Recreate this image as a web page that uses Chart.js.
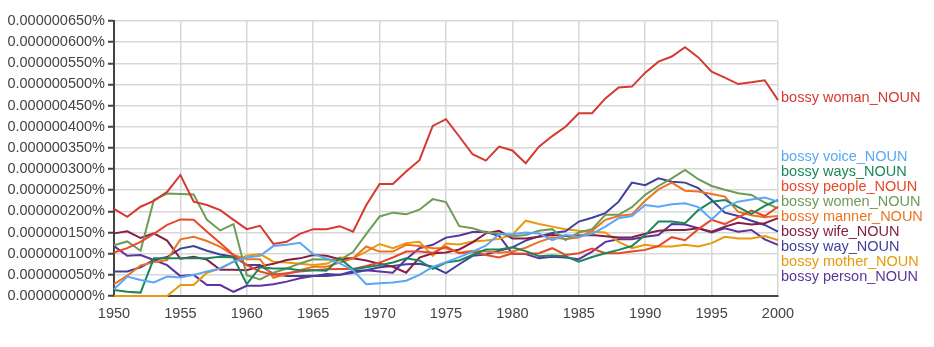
<!DOCTYPE html>
<html>
<head>
<meta charset="utf-8">
<script src="https://cdn.jsdelivr.net/npm/chart.js@4"></script>
<style>
  html, body { margin: 0; padding: 0; background: #fff; }
  #wrap { width: 934px; height: 347px; position: relative; }
</style>
</head>
<body>
<div id="wrap"><canvas id="chart"></canvas></div>
<script>
// values are in units of 0.000000001 %
const years = [];
for (let y = 1950; y <= 2000; y++) years.push(y);

const woman = [206, 187, 211, 225, 246, 286, 223, 215, 203, 180, 158, 166, 123, 128, 147, 158, 158, 165, 152, 215, 265, 265, 294, 321, 402, 418, 377, 335, 320, 353, 344, 314, 353, 378, 400, 432, 432, 467, 493, 495, 528, 554, 566, 588, 564, 530, 516, 501, 505, 510, 463];
const voice = [16, 46, 38, 32, 46, 44, 50, 58, 65, 81, 91, 95, 118, 121, 126, 99, 89, 77, 61, 28, 30, 32, 36, 50, 69, 80, 92, 105, 119, 146, 146, 150, 148, 132, 144, 140, 147, 164, 184, 189, 215, 211, 217, 219, 210, 181, 210, 223, 228, 233, 223];
const ways = [14, 10, 8, 89, 89, 89, 89, 89, 93, 91, 28, 68, 65, 65, 61, 61, 60, 89, 63, 68, 73, 79, 89, 84, 64, 79, 84, 97, 110, 110, 115, 106, 94, 96, 94, 81, 92, 101, 109, 118, 144, 176, 176, 172, 203, 223, 227, 210, 194, 213, 227];
const people = [103, 113, 128, 147, 168, 181, 180, 152, 125, 97, 73, 58, 50, 54, 58, 61, 63, 64, 64, 71, 79, 91, 105, 105, 102, 117, 101, 104, 97, 91, 101, 100, 101, 113, 97, 101, 112, 101, 101, 105, 109, 118, 139, 132, 158, 180, 170, 186, 202, 189, 211];
const women = [120, 129, 107, 227, 242, 241, 240, 180, 155, 170, 49, 39, 55, 65, 77, 87, 86, 85, 104, 147, 188, 197, 193, 204, 229, 222, 165, 160, 150, 148, 141, 144, 154, 158, 132, 150, 158, 192, 192, 210, 239, 260, 278, 298, 276, 260, 251, 243, 239, 221, 207];
const manner = [28, 48, 72, 80, 85, 134, 140, 130, 116, 97, 87, 87, 43, 52, 61, 69, 69, 79, 89, 117, 105, 105, 121, 118, 113, 113, 102, 107, 105, 102, 105, 114, 128, 138, 135, 138, 154, 180, 189, 193, 225, 252, 268, 249, 247, 241, 235, 199, 191, 186, 189];
const wife = [148, 153, 137, 148, 131, 88, 93, 86, 62, 62, 61, 70, 76, 85, 89, 97, 95, 87, 89, 84, 76, 69, 55, 91, 101, 103, 110, 127, 148, 154, 136, 136, 140, 144, 142, 143, 144, 141, 138, 139, 147, 154, 156, 156, 160, 152, 164, 173, 169, 172, 184];
const way = [58, 58, 68, 85, 92, 112, 118, 107, 98, 93, 73, 73, 52, 47, 47, 48, 47, 50, 59, 61, 68, 71, 75, 76, 69, 54, 75, 95, 98, 107, 115, 131, 141, 149, 153, 176, 185, 196, 223, 268, 262, 278, 270, 268, 255, 227, 197, 189, 178, 168, 152];
const mother = [0, 0, 0, 0, 0, 26, 26, 55, 65, 81, 95, 99, 81, 79, 76, 73, 76, 91, 89, 105, 123, 113, 125, 128, 95, 124, 122, 129, 131, 135, 145, 178, 170, 164, 158, 154, 152, 150, 128, 113, 121, 117, 117, 121, 117, 125, 140, 136, 136, 142, 132];
const person = [118, 95, 97, 85, 73, 47, 50, 26, 26, 10, 24, 24, 28, 34, 42, 47, 52, 50, 55, 61, 58, 55, 87, 113, 121, 138, 143, 151, 152, 142, 100, 99, 89, 93, 91, 87, 105, 128, 134, 134, 140, 144, 170, 169, 160, 150, 160, 152, 156, 134, 121];

const seriesNames = ['bossy woman_NOUN', 'bossy voice_NOUN', 'bossy ways_NOUN', 'bossy people_NOUN', 'bossy women_NOUN',
  'bossy manner_NOUN', 'bossy wife_NOUN', 'bossy way_NOUN', 'bossy mother_NOUN', 'bossy person_NOUN'];
const seriesValues = [woman, voice, ways, people, women, manner, wife, way, mother, person];
const seriesColors = ['#d43a2f', '#58a8f6', '#1b8659', '#e8482a', '#6e9b57', '#ec7421', '#861e48', '#41419c', '#e89a0c', '#5e339c'];

const FONT = '"Liberation Sans", Arial, sans-serif';

// draws the series names at the right end of each line, spreading out overlapping ones
const endLabels = {
  id: 'endLabels',
  afterDatasetsDraw(chart) {
    const ctx = chart.ctx;
    const yScale = chart.scales.y;
    const gap = 15;
    const items = chart.data.datasets.map(function (ds) {
      return { want: yScale.getPixelForValue(ds.data[ds.data.length - 1].y), text: ds.label, color: ds.borderColor };
    });
    let groups = items.map(function (it) { return { members: [it], center: it.want }; });
    let merged = true;
    while (merged) {
      merged = false;
      groups.sort(function (a, b) { return a.center - b.center; });
      for (let i = 0; i < groups.length - 1; i++) {
        const g = groups[i], h = groups[i + 1];
        const gBottom = g.center + (g.members.length - 1) / 2 * gap;
        const hTop = h.center - (h.members.length - 1) / 2 * gap;
        if (hTop - gBottom < gap) {
          const members = g.members.concat(h.members);
          const c = members.reduce(function (s, m) { return s + m.want; }, 0) / members.length;
          groups.splice(i, 2, { members: members, center: c });
          merged = true;
          break;
        }
      }
    }
    ctx.save();
    ctx.font = '14.5px ' + FONT;
    ctx.textAlign = 'left';
    ctx.textBaseline = 'middle';
    groups.forEach(function (g) {
      g.members.sort(function (a, b) { return items.indexOf(a) - items.indexOf(b); });
      g.members.forEach(function (m, k) {
        const y = g.center - 2 + (k - (g.members.length - 1) / 2) * gap;
        ctx.fillStyle = m.color;
        ctx.fillText(m.text, chart.chartArea.right + 3, y);
      });
    });
    ctx.restore();
  }
};

const ctx = document.getElementById('chart').getContext('2d');

new Chart(ctx, {
  type: 'line',
  data: {
    datasets: seriesNames.map(function (name, i) {
      return {
        label: name,
        data: years.map(function (yr, k) { return { x: yr, y: seriesValues[i][k] }; }),
        borderColor: seriesColors[i],
        backgroundColor: seriesColors[i],
        borderWidth: 2,
        pointRadius: 0,
        tension: 0,
        fill: false,
        clip: 3
      };
    })
  },
  options: {
    responsive: true,
    maintainAspectRatio: false,
    animation: false,
    layout: { padding: { left: 0, top: 21, right: 156, bottom: 0 } },
    plugins: {
      legend: { display: false },
      tooltip: { enabled: false }
    },
    scales: {
      x: {
        type: 'linear',
        min: 1950,
        max: 2000,
        border: { display: true, color: '#444', width: 2 },
        grid: { color: '#d8d8d8', lineWidth: 1.5, drawTicks: false },
        ticks: {
          stepSize: 5,
          padding: 9,
          color: '#444',
          font: { family: FONT, size: 14.5 },
          callback: function (v) { return String(v); }
        },
        afterFit: function (scale) { scale.height = 51; }
      },
      y: {
        min: 0,
        max: 650,
        border: { display: true, color: '#444', width: 2 },
        grid: { color: '#d8d8d8', lineWidth: 1.5, tickLength: 6, tickColor: '#444', tickWidth: 2 },
        ticks: {
          stepSize: 50,
          padding: 3,
          color: '#444',
          font: { family: FONT, size: 14.5 },
          callback: function (v) { return (v / 1e9).toFixed(9) + '%'; }
        },
        afterFit: function (scale) { scale.width = 114; }
      }
    }
  },
  plugins: [endLabels]
});
</script>
</body>
</html>
